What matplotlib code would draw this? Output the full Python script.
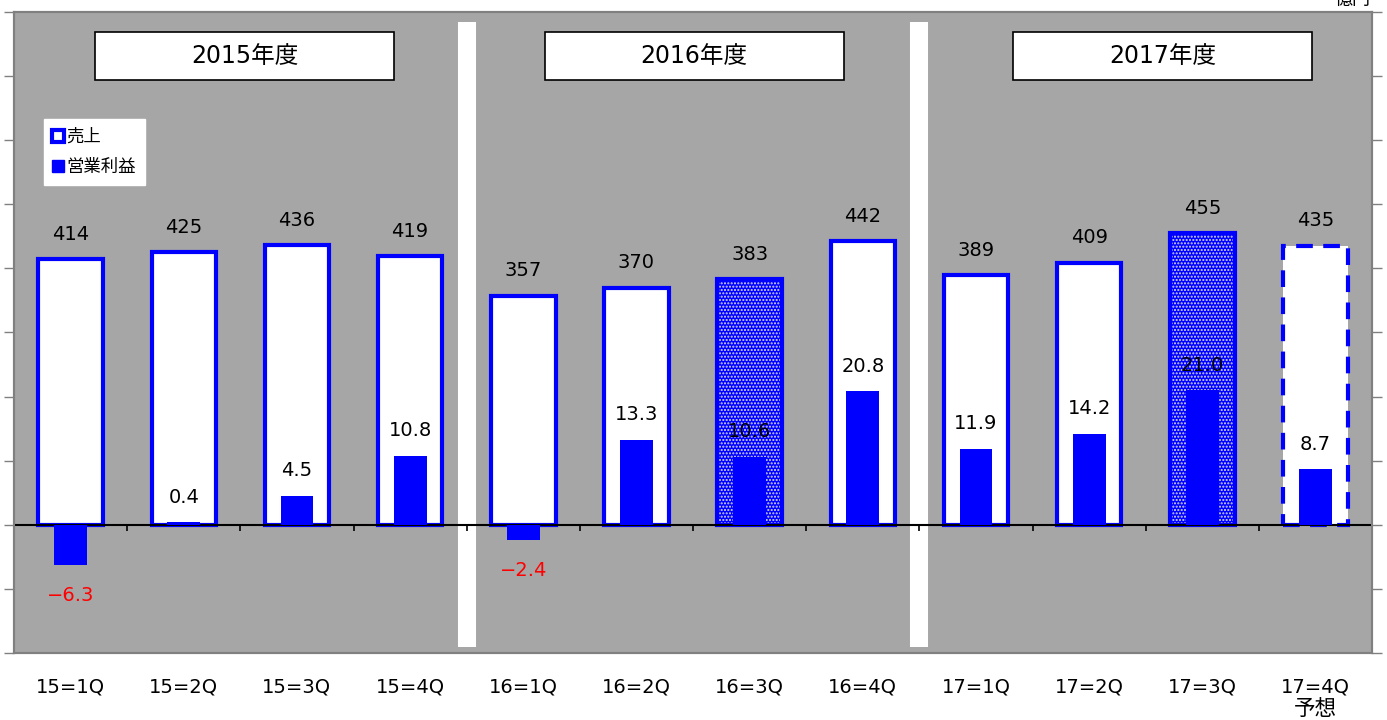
"""Quarterly sales and operating profit, FY2015-FY2017 (bars on twin axes)."""
import matplotlib

matplotlib.use("Agg")
import matplotlib.pyplot as plt  # noqa: E402
from matplotlib.lines import Line2D  # noqa: E402
from matplotlib.patches import Rectangle  # noqa: E402

plt.rcParams["font.family"] = ["DejaVu Sans", "Noto Sans CJK JP"]
plt.rcParams["hatch.linewidth"] = 1.0

QUARTERS = ["15=1Q", "15=2Q", "15=3Q", "15=4Q", "16=1Q", "16=2Q", "16=3Q", "16=4Q",
            "17=1Q", "17=2Q", "17=3Q", "17=4Q"]
SALES = [414, 425, 436, 419, 357, 370, 383, 442, 389, 409, 455, 435]
PROFIT = [-6.3, 0.4, 4.5, 10.8, -2.4, 13.3, 10.6, 20.8, 11.9, 14.2, 21.0, 8.7]
YEARS = ["2015年度", "2016年度", "2017年度"]
HATCHED = [6, 10]      # dotted bars (cumulative-quarter highlight)
FORECAST = 11          # dashed outline = forecast
FORECAST_NOTE = "予想"

BLUE = "#0000ff"
BG = "#a6a6a6"
SPINE = "#808080"
YEAR_BOX_X = [0.22, 4.19, 8.33]  # left edge of each fiscal-year caption box

fig = plt.figure(figsize=(13.87, 7.2), dpi=100)
ax = fig.add_axes([0.0101, 0.0931, 0.9791, 0.8902])
ax.set_facecolor(BG)
ax.set_xlim(-0.5, len(QUARTERS) - 0.5)
ax.set_ylim(-200, 800)
ax2 = ax.twinx()
ax2.set_ylim(-20, 80)

x = list(range(len(QUARTERS)))

# sales bars
for i, v in enumerate(SALES):
    if i in HATCHED:
        ax.bar(i, v, 0.57, color=BLUE, lw=0, zorder=2)
        ax.bar(i, v, 0.57, facecolor="none", edgecolor="#d8d8ff", hatch=".....", lw=0, zorder=2.1)
        ax.bar(i, v, 0.57, facecolor="none", edgecolor=BLUE, lw=3, zorder=2.2)
    elif i == FORECAST:
        ax.bar(i, v, 0.57, facecolor="white", edgecolor=BLUE, lw=3,
               linestyle=(0, (4, 2.5)), zorder=2)
    else:
        ax.bar(i, v, 0.57, facecolor="white", edgecolor=BLUE, lw=3, zorder=2)
    ax.annotate(f"{v}", (i, v), xytext=(0, 18), textcoords="offset points",
                ha="center", va="center", fontsize=14)

# operating profit bars
ax2.bar(x, PROFIT, 0.29, color=BLUE, lw=0, zorder=3)
for i, v in enumerate(PROFIT):
    if v < 0:
        ax2.annotate(f"\u2212{abs(v):.1f}", (i, v), xytext=(0, -22), textcoords="offset points",
                     ha="center", va="center", fontsize=14, color="red")
    else:
        ax2.annotate(f"{v:.1f}", (i, v), xytext=(0, 18), textcoords="offset points",
                     ha="center", va="center", fontsize=14, color="black")

# zero line with category-boundary ticks
ax.axhline(0, color="black", lw=1.5, zorder=4)
ax.vlines([b + 0.5 for b in x[:-1]], -9, 0, color="black", lw=1.2, zorder=4)

# white fiscal-year separators
for sep in (3.5, 7.5):
    ax.plot([sep, sep], [-190, 785], color="white", lw=13, solid_capstyle="butt", zorder=1)

# fiscal-year boxes
for x0, label in zip(YEAR_BOX_X, YEARS):
    ax.add_patch(Rectangle((x0, 694), 2.64, 75, facecolor="white", edgecolor="black",
                           lw=1.2, zorder=3))
    ax.text(x0 + 1.32, 731.5, label, ha="center", va="center", fontsize=17, zorder=4)

# legend
handles = [
    Line2D([], [], ls="none", marker="s", markersize=9, markerfacecolor="white",
           markeredgecolor=BLUE, markeredgewidth=3),
    Line2D([], [], ls="none", marker="s", markersize=8, markerfacecolor=BLUE,
           markeredgecolor=BLUE),
]
leg = ax2.legend(handles, ["売上", "営業利益"], loc="upper left",
                 bbox_to_anchor=(0.022, 0.833), fontsize=12.5, frameon=True, fancybox=False,
                 framealpha=1, edgecolor="white", handlelength=0.6, handletextpad=0.2,
                 borderpad=0.5, labelspacing=0.7, borderaxespad=0)
leg.set_zorder(10)

# axes cosmetics
ax.set_xticks(x)
ax.set_xticklabels(QUARTERS, fontsize=14)
ax.tick_params(axis="x", length=0, pad=18)
ax.annotate(FORECAST_NOTE, (FORECAST, 0), xycoords=("data", "axes fraction"),
            xytext=(0, -40), textcoords="offset points", ha="center", va="center",
            fontsize=15.5, annotation_clip=False)
ax.set_yticks(range(-200, 801, 100))
ax.set_yticklabels([])
ax.tick_params(axis="y", length=7, color=SPINE, width=1)
ax2.set_yticks(range(-20, 81, 10))
ax2.set_yticklabels([])
ax2.tick_params(axis="y", length=7, color=SPINE, width=1)
for a in (ax, ax2):
    for s in a.spines.values():
        s.set_color(SPINE)
        s.set_linewidth(1.5)

# unit caption, clipped by the top edge as in the source
fig.text(0.975, 1.0, "億円", ha="center", va="center", fontsize=13)

fig.savefig("out.png", dpi=100)
